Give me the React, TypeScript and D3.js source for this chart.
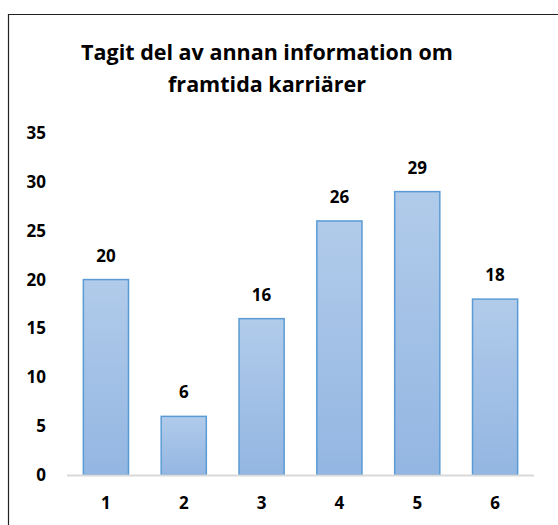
import { useEffect, useRef } from "react";
import * as d3 from "d3";

const categories = ["1", "2", "3", "4", "5", "6"];
const values = [20, 6, 16, 26, 29, 18];
const yTicks = [0, 5, 10, 15, 20, 25, 30, 35];
const titleLines = ["Tagit del av annan information om", "framtida karriärer"];

export default function App() {
  const svgRef = useRef<SVGSVGElement>(null);

  useEffect(() => {
    if (!svgRef.current) return;
    const svg = d3.select(svgRef.current);
    svg.selectAll("*").remove();

    const width = 558;
    const height = 525;
    const font = "'Open Sans', 'Liberation Sans', sans-serif";

    svg.attr("width", width).attr("height", height).style("font-family", font);

    // gradient for bars
    const defs = svg.append("defs");
    const grad = defs.append("linearGradient")
      .attr("id", "barGrad")
      .attr("x1", 0).attr("y1", 0).attr("x2", 0).attr("y2", 1);
    grad.append("stop").attr("offset", "0%").attr("stop-color", "#b1cbea");
    grad.append("stop").attr("offset", "100%").attr("stop-color", "#93b6e2");

    svg.append("rect").attr("width", width).attr("height", height).attr("fill", "#fff");

    // chart frame (cropped at right/bottom)
    svg.append("path")
      .attr("d", `M8.5,${height} V14.5 H${width}`)
      .attr("fill", "none")
      .attr("stroke", "#222")
      .attr("stroke-width", 1.2);

    // title
    svg.append("g").selectAll("text")
      .data(titleLines)
      .enter().append("text")
      .attr("x", 267)
      .attr("y", (_, i) => 60 + i * 32)
      .attr("text-anchor", "middle")
      .style("font-size", "21.5px")
      .style("font-weight", "bold")
      .style("fill", "#000")
      .text(d => d);

    const x = d3.scaleBand<string>()
      .domain(categories)
      .range([67, 534])
      .paddingInner(0.42)
      .paddingOuter(0.21);

    const y = d3.scaleLinear().domain([0, 35]).range([475, 133]);

    // y labels
    svg.append("g").selectAll("text")
      .data(yTicks)
      .enter().append("text")
      .attr("x", 46)
      .attr("y", d => y(d) + 6)
      .attr("text-anchor", "end")
      .style("font-size", "17px")
      .style("font-weight", "bold")
      .text(d => d);

    // bars
    svg.append("g").selectAll("rect")
      .data(values)
      .enter().append("rect")
      .attr("x", (_, i) => x(categories[i])!)
      .attr("y", d => y(d))
      .attr("width", x.bandwidth())
      .attr("height", d => y(0) - y(d))
      .attr("fill", "url(#barGrad)")
      .attr("stroke", "#5b9bd5")
      .attr("stroke-width", 1.5);

    // value labels
    svg.append("g").selectAll("text")
      .data(values)
      .enter().append("text")
      .attr("x", (_, i) => x(categories[i])! + x.bandwidth() / 2)
      .attr("y", d => y(d) - 18)
      .attr("text-anchor", "middle")
      .style("font-size", "17px")
      .style("font-weight", "bold")
      .text(d => d);

    // x axis line
    svg.append("line")
      .attr("x1", 67).attr("x2", 534)
      .attr("y1", y(0) + 0.5).attr("y2", y(0) + 0.5)
      .attr("stroke", "#d9d9d9")
      .attr("stroke-width", 2);

    // x labels
    svg.append("g").selectAll("text")
      .data(categories)
      .enter().append("text")
      .attr("x", d => x(d)! + x.bandwidth() / 2)
      .attr("y", 509)
      .attr("text-anchor", "middle")
      .style("font-size", "17px")
      .style("font-weight", "bold")
      .text(d => d);
  }, []);

  return (
    <div style={{ position: "absolute", left: 0, top: 0 }}>
      <svg ref={svgRef} style={{ display: "block" }}></svg>
    </div>
  );
}
